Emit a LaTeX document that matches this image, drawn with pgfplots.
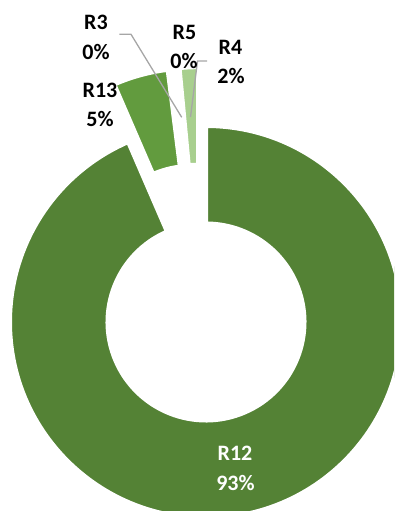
\documentclass[border=0pt]{standalone}
\usepackage{pgfplots}
\usepackage{pgfplotstable}
\pgfplotsset{compat=1.18}
\usepackage{fontspec}
\setmainfont{Carlito}
\definecolor{c12}{HTML}{548235}
\definecolor{c13}{HTML}{629B3E}
\definecolor{c3}{HTML}{70AD47}
\definecolor{c5}{HTML}{8BBF6A}
\definecolor{c4}{HTML}{A8CF8E}
\definecolor{lead}{HTML}{A6A6A6}
\newcommand\lbl{\fontsize{22}{26}\selectfont\bfseries}
% slices in clockwise order from 12 o'clock; value in percent,
% (cx,cy) = centre of the (exploded) slice
\pgfplotstableread{
label value cx cy col
R12 93.5 206.0 189.0 c12
R13 4.5 192.2 246.7 c13
R3 0.25 206.0 189.0 c3
R5 0.25 206.0 189.0 c5
R4 1.5 198.0 247.8 c4
}\slices
\begin{document}
\begin{tikzpicture}
\begin{axis}[x=1pt, y=1pt, xmin=0, xmax=394, ymin=0, ymax=511,
  hide axis, scale only axis, clip=true]
\coordinate (SW) at (rel axis cs:0,0);
\coordinate (NE) at (rel axis cs:1,1);
\gdef\cum{0}
\pgfplotsinvokeforeach{0,...,4}{
  \pgfplotstablegetelem{#1}{value}\of\slices \let\v\pgfplotsretval
  \pgfplotstablegetelem{#1}{cx}\of\slices \let\cx\pgfplotsretval
  \pgfplotstablegetelem{#1}{cy}\of\slices \let\cy\pgfplotsretval
  \pgfplotstablegetelem{#1}{col}\of\slices \let\col\pgfplotsretval
  \pgfmathsetmacro\aS{90-3.6*\cum}
  \pgfmathsetmacro\aE{90-3.6*(\cum+\v)}
  \pgfmathsetmacro\newcum{\cum+\v}\xdef\cum{\newcum}
  % slices below 0.5 % vanish under the white border
  \ifdim\v pt>0.5pt
    \edef\temp{\noexpand\fill[\col, draw=white, line width=4pt, shift={(axis cs:\cx,\cy)}]
      (\aS:196pt) arc[start angle=\aS, end angle=\aE, radius=196pt]
      -- (\aE:98.5pt) arc[start angle=\aE, end angle=\aS, radius=98.5pt] -- cycle;}
    \temp
  \fi
}
% leader lines
\draw[lead, line width=1.3pt] (axis cs:119.3,476.7) -- (axis cs:131,476.7) -- (axis cs:181.7,393.7);
\draw[lead, line width=1.3pt] (axis cs:207,450) -- (axis cs:197.5,450) -- (axis cs:190.5,394);
% data labels
\node[anchor=base, font=\lbl, inner sep=0pt] at (axis cs:96,481.7) {R3};
\node[anchor=base, font=\lbl, inner sep=0pt] at (axis cs:96,451.7) {0\%};
\node[anchor=base, font=\lbl, inner sep=0pt] at (axis cs:184.5,471.7) {R5};
\node[anchor=base, font=\lbl, inner sep=0pt] at (axis cs:184,442.7) {0\%};
\node[anchor=base, font=\lbl, inner sep=0pt] at (axis cs:230.5,456.7) {R4};
\node[anchor=base, font=\lbl, inner sep=0pt] at (axis cs:231,427.7) {2\%};
\node[anchor=base, font=\lbl, inner sep=0pt] at (axis cs:100,413.7) {R13};
\node[anchor=base, font=\lbl, inner sep=0pt] at (axis cs:100,384) {5\%};
\node[anchor=base, font=\lbl, inner sep=0pt, text=white] at (axis cs:235,50) {R12};
\node[anchor=base, font=\lbl, inner sep=0pt, text=white] at (axis cs:235.5,20.3) {93\%};
\end{axis}
\pgfresetboundingbox
\path[use as bounding box] (SW) rectangle (NE);
\end{tikzpicture}
\end{document}
